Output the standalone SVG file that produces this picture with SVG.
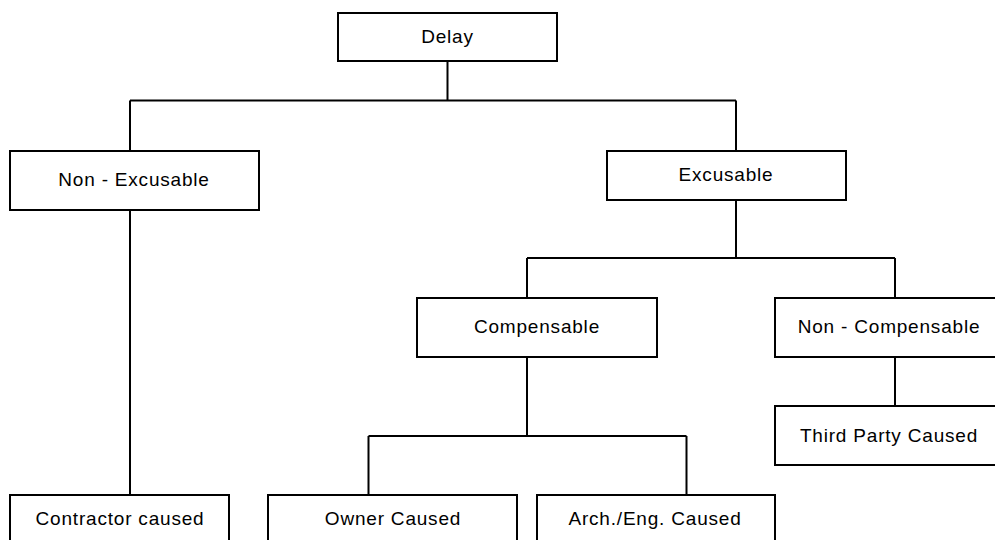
<svg xmlns="http://www.w3.org/2000/svg" width="995" height="540" viewBox="0 0 995 540">
  <style>
    .box { fill: #ffffff; stroke: #000000; stroke-width: 2; }
    .lbl { font-family: "Liberation Sans", Arial, sans-serif; font-size: 19px; letter-spacing: 0.8px; fill: #000000; text-anchor: middle; }
    .wire { fill: none; stroke: #000000; stroke-width: 2; }
  </style>
  <rect width="995" height="540" fill="#ffffff"/>

  <!-- connectors -->
  <g id="connectors" class="wire">
    <path d="M447.5 61 V100.5 M130 100.5 H736 M130 100.5 V151 M736 100.5 V151"/>
    <path d="M130 210 V495"/>
    <path d="M736 200 V258 M527 258 H895 M527 258 V298 M895 258 V298"/>
    <path d="M895 357 V406"/>
    <path d="M527 357 V436 M368.5 436 H686.5 M368.5 436 V495 M686.5 436 V495"/>
  </g>

  <g id="delay">
    <rect class="box" x="338" y="13" width="219" height="48"/>
    <text class="lbl" x="447.5" y="43">Delay</text>
  </g>
  <g id="non-excusable">
    <rect class="box" x="10" y="151" width="249" height="59"/>
    <text class="lbl" x="134" y="186">Non - Excusable</text>
  </g>
  <g id="excusable">
    <rect class="box" x="607" y="151" width="239" height="49"/>
    <text class="lbl" x="726" y="181">Excusable</text>
  </g>
  <g id="compensable">
    <rect class="box" x="417" y="298" width="240" height="59"/>
    <text class="lbl" x="537" y="333">Compensable</text>
  </g>
  <g id="non-compensable">
    <rect class="box" x="775" y="298" width="227" height="59"/>
    <text class="lbl" x="889" y="333">Non - Compensable</text>
  </g>
  <g id="third-party">
    <rect class="box" x="775" y="406" width="227" height="59"/>
    <text class="lbl" x="889" y="442">Third Party Caused</text>
  </g>
  <g id="contractor">
    <rect class="box" x="10" y="495" width="219" height="60"/>
    <text class="lbl" x="120" y="525">Contractor caused</text>
  </g>
  <g id="owner">
    <rect class="box" x="268" y="495" width="249" height="60"/>
    <text class="lbl" x="393" y="525">Owner Caused</text>
  </g>
  <g id="arch-eng">
    <rect class="box" x="537" y="495" width="238" height="60"/>
    <text class="lbl" x="655" y="525">Arch./Eng. Caused</text>
  </g>
</svg>
